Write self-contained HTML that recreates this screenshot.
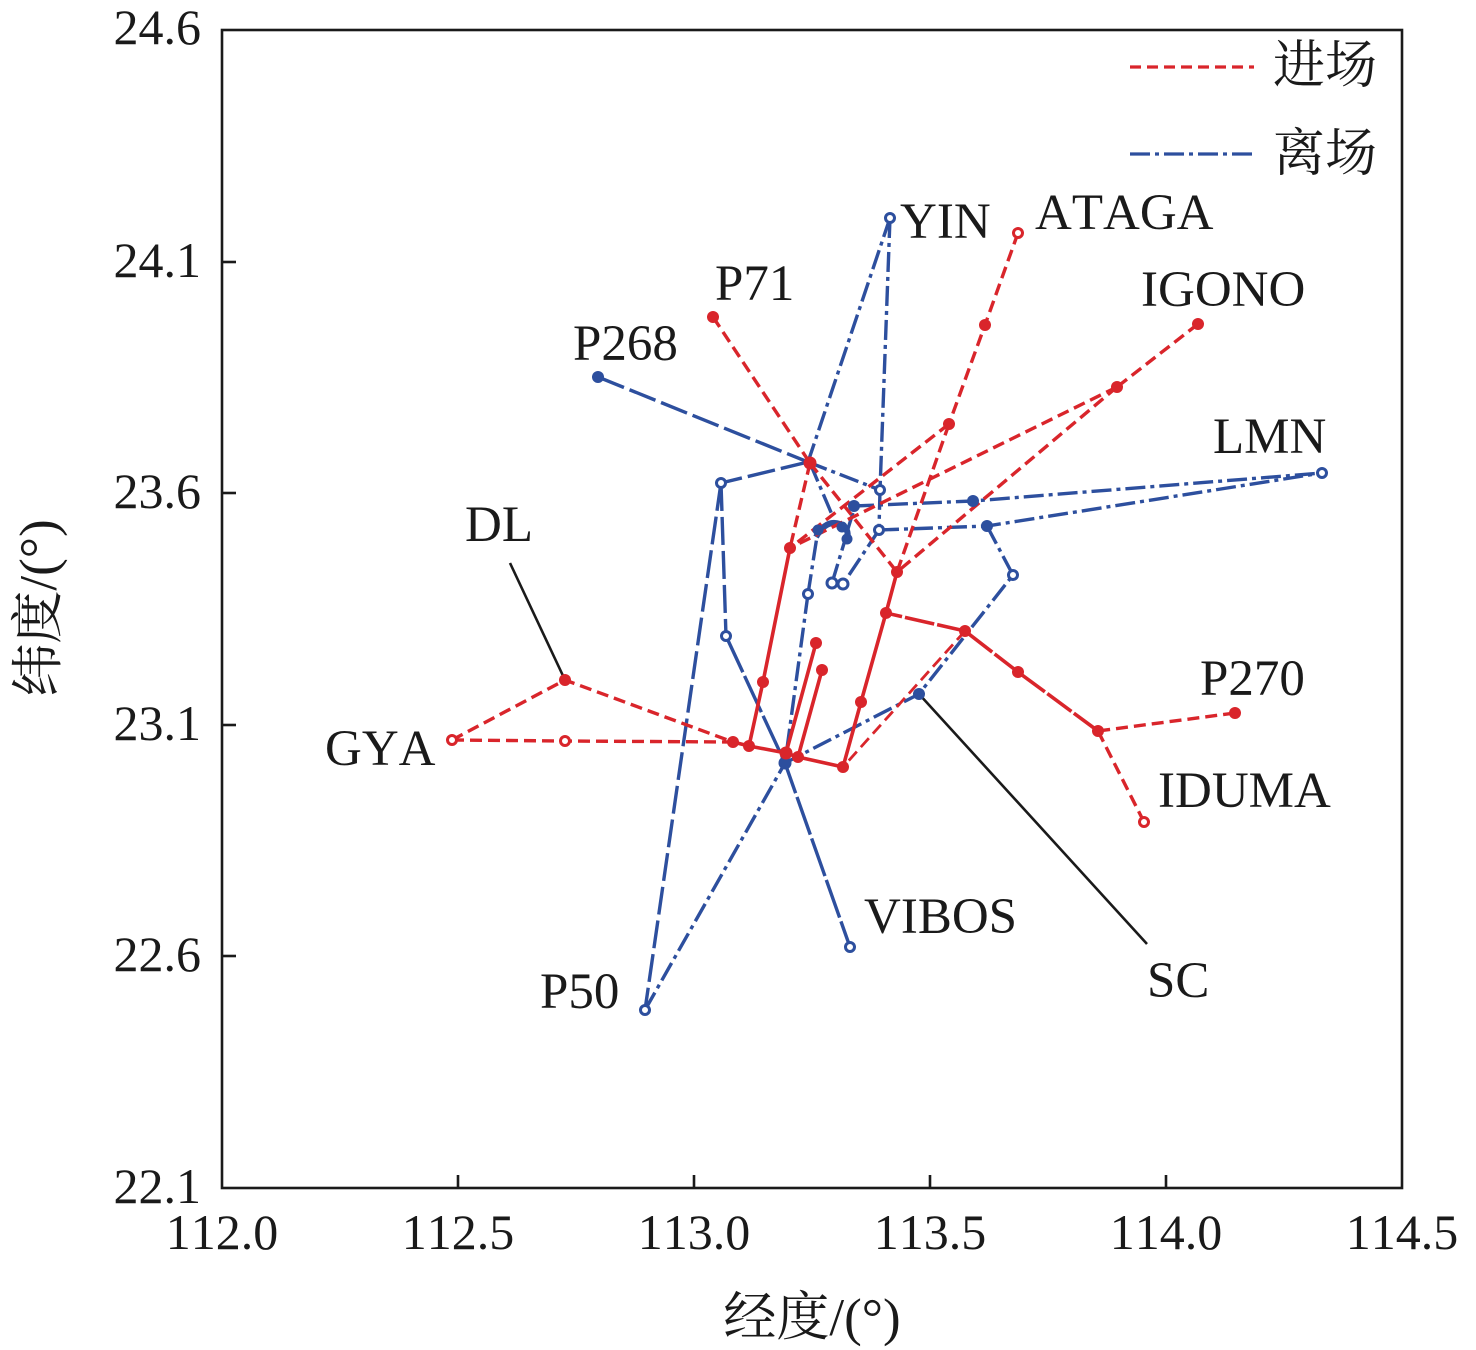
<!DOCTYPE html>
<html>
<head>
<meta charset="utf-8">
<style>
html,body{margin:0;padding:0;background:#fff;}
svg{display:block;}
text{font-family:"Liberation Serif","Noto Serif CJK SC",serif;fill:#1a1a1a;font-kerning:none;}
</style>
</head>
<body>
<svg width="1476" height="1350" viewBox="0 0 1476 1350" xmlns="http://www.w3.org/2000/svg">
<rect x="0" y="0" width="1476" height="1350" fill="#fff"/>

<!-- leader lines -->
<g stroke="#1a1a1a" stroke-width="2.6" fill="none">
<line x1="510" y1="563" x2="565" y2="680"/>
<line x1="919" y1="694" x2="1147" y2="944"/>
</g>

<!-- Blue departure: long dash -->
<g stroke="#2d4f9e" stroke-width="3.4" fill="none" stroke-linecap="butt">
<polyline points="598,377 808,462" stroke-dasharray="28 6"/>
<polyline points="808,462 721,483" stroke-dasharray="28 6"/>
<polyline points="721,483 645,1010" stroke-dasharray="28 6"/>
<polyline points="721,483 726,636" stroke-dasharray="28 6"/>
<polyline points="726,636 785,763 850,947" stroke-dasharray="40 4"/>
</g>

<!-- Blue departure: dash-dot -->
<g stroke="#2d4f9e" stroke-width="3.4" fill="none" stroke-dasharray="20 5 4 5">
<polyline points="890,218 808,462"/>
<polyline points="890,218 880,490 879,530"/>
<polyline points="808,462 880,490"/>
<polyline points="810,463 833,517"/>
<polyline points="854,506 973,501 1322,473"/>
<polyline points="879,530 987,526 1322,473"/>
<polyline points="987,526 1013,575 919,694 785,763"/>
<polyline points="879,530 843,584"/>
<polyline points="832,583 845,540"/>
<polyline points="808,594 818,530"/>
<polyline points="808,594 785,763"/>
<polyline points="645,1010 785,763"/>
<polyline points="847,532 855,506"/>
</g>
<!-- cluster blob -->
<path d="M816,537 Q826,519 840,524 Q850,528 847,540" stroke="#2d4f9e" stroke-width="6" fill="none"/>

<!-- Red arrival dashed -->
<g stroke="#d9252b" stroke-width="3.4" fill="none" stroke-dasharray="12 6">
<polyline points="713,317 810,463"/>
<polyline points="810,463 897,572"/>
<polyline points="810,463 790,548"/>
<polyline points="1018,233 985,325 949,424"/>
<polyline points="949,424 790,548"/>
<polyline points="949,424 897,572"/>
<polyline points="1198,324 1117,387"/>
<polyline points="1117,387 790,548"/>
<polyline points="1117,387 897,572"/>
<polyline points="1235,713 1098,731"/>
<polyline points="1144,822 1098,731"/>
<polyline points="452,740 565,680 733,742"/>
<polyline points="452,740 565,741 733,742"/>
<polyline points="965,631 843,767" stroke-width="2.8"/>
</g>

<!-- Red solid-ish -->
<g stroke="#d9252b" stroke-width="3.6" fill="none" stroke-linejoin="round">
<polyline points="1098,731 1018,672 965,631 886,613" stroke-dasharray="30 3"/>
<polyline points="790,548 763,682 749,746"/>
<polyline points="733,742 749,746 786,753"/>
<polyline points="897,572 886,613 861,702 843,767"/>
<polyline points="843,767 798,757 786,753"/>
<polyline points="816,643 786,753"/>
<polyline points="822,670 798,757"/>
</g>

<!-- Blue markers -->
<g fill="#2d4f9e">
<circle cx="785" cy="763" r="6.5"/>
<circle cx="919" cy="694" r="6"/>
<circle cx="854" cy="506" r="6"/>
<circle cx="973" cy="501" r="6"/>
<circle cx="987" cy="526" r="6"/>
<circle cx="598" cy="377" r="6"/>
<circle cx="818" cy="530" r="5.5"/>
<circle cx="842" cy="527" r="5.5"/>
<circle cx="847" cy="539" r="5.5"/>
</g>
<g fill="#fff" stroke="#2d4f9e" stroke-width="3">
<circle cx="890" cy="218" r="4.5"/>
<circle cx="880" cy="490" r="4.5"/>
<circle cx="879" cy="530" r="4.5"/>
<circle cx="1013" cy="575" r="4.5"/>
<circle cx="832" cy="583" r="5"/>
<circle cx="843" cy="584" r="5"/>
<circle cx="808" cy="594" r="4.5"/>
<circle cx="726" cy="636" r="4.5"/>
<circle cx="721" cy="483" r="4.5"/>
<circle cx="1322" cy="473" r="4.5"/>
<circle cx="850" cy="947" r="4.5"/>
<circle cx="645" cy="1010" r="4.5"/>
</g>

<!-- Red markers -->
<g fill="#d9252b">
<circle cx="810" cy="463" r="6.5"/>
<circle cx="790" cy="548" r="6"/>
<circle cx="897" cy="572" r="6"/>
<circle cx="886" cy="613" r="6"/>
<circle cx="965" cy="631" r="6"/>
<circle cx="1018" cy="672" r="6"/>
<circle cx="1098" cy="731" r="6"/>
<circle cx="763" cy="682" r="6"/>
<circle cx="749" cy="746" r="6"/>
<circle cx="733" cy="742" r="6"/>
<circle cx="786" cy="753" r="6.5"/>
<circle cx="798" cy="757" r="6"/>
<circle cx="843" cy="767" r="6"/>
<circle cx="861" cy="702" r="6"/>
<circle cx="816" cy="643" r="6"/>
<circle cx="822" cy="670" r="6"/>
<circle cx="713" cy="317" r="6"/>
<circle cx="1117" cy="387" r="6"/>
<circle cx="1198" cy="324" r="6"/>
<circle cx="1235" cy="713" r="6"/>
<circle cx="565" cy="680" r="6"/>
<circle cx="949" cy="424" r="6"/>
<circle cx="985" cy="325" r="6"/>
</g>
<g fill="#fff" stroke="#d9252b" stroke-width="3">
<circle cx="1018" cy="233" r="4.5"/>
<circle cx="1144" cy="822" r="4.5"/>
<circle cx="565" cy="741" r="4.5"/>
<circle cx="452" cy="740" r="4.5"/>
</g>

<!-- Frame -->
<rect x="222" y="30" width="1180" height="1158" fill="none" stroke="#1a1a1a" stroke-width="2.6"/>
<!-- ticks -->
<g stroke="#1a1a1a" stroke-width="2.6">
<line x1="458" y1="1188" x2="458" y2="1175"/>
<line x1="694" y1="1188" x2="694" y2="1175"/>
<line x1="930" y1="1188" x2="930" y2="1175"/>
<line x1="1166" y1="1188" x2="1166" y2="1175"/>
<line x1="222" y1="262" x2="236" y2="262"/>
<line x1="222" y1="493" x2="236" y2="493"/>
<line x1="222" y1="725" x2="236" y2="725"/>
<line x1="222" y1="956" x2="236" y2="956"/>
</g>

<!-- tick labels -->
<g font-size="50" text-anchor="end">
<text x="201" y="44">24.6</text>
<text x="201" y="277">24.1</text>
<text x="201" y="508">23.6</text>
<text x="201" y="740">23.1</text>
<text x="201" y="971">22.6</text>
<text x="201" y="1203">22.1</text>
</g>
<g font-size="50" text-anchor="middle">
<text x="222" y="1249">112.0</text>
<text x="458" y="1249">112.5</text>
<text x="694" y="1249">113.0</text>
<text x="930" y="1249">113.5</text>
<text x="1166" y="1249">114.0</text>
<text x="1402" y="1249">114.5</text>
</g>

<!-- axis titles -->
<text x="812" y="1335" font-size="53" text-anchor="middle">经度/(°)</text>
<text x="0" y="0" font-size="53" text-anchor="middle" transform="translate(56,608) rotate(-90)">纬度/(°)</text>

<!-- point labels -->
<g font-size="51">
<text x="900" y="238">YIN</text>
<text x="1035" y="229">ATAGA</text>
<text x="715" y="300">P71</text>
<text x="1141" y="306">IGONO</text>
<text x="573" y="360">P268</text>
<text x="1213" y="453">LMN</text>
<text x="465" y="541">DL</text>
<text x="325" y="765">GYA</text>
<text x="1200" y="695">P270</text>
<text x="1158" y="807">IDUMA</text>
<text x="864" y="933">VIBOS</text>
<text x="1147" y="997">SC</text>
<text x="540" y="1008">P50</text>
</g>

<!-- legend -->
<line x1="1130" y1="67" x2="1254" y2="67" stroke="#d9252b" stroke-width="3.2" stroke-dasharray="11 6"/>
<text x="1273" y="83" font-size="52">进场</text>
<line x1="1130" y1="154" x2="1256" y2="154" stroke="#2d4f9e" stroke-width="3.2" stroke-dasharray="20 5 4 5"/>
<text x="1273" y="171" font-size="52">离场</text>
</svg>
</body>
</html>
